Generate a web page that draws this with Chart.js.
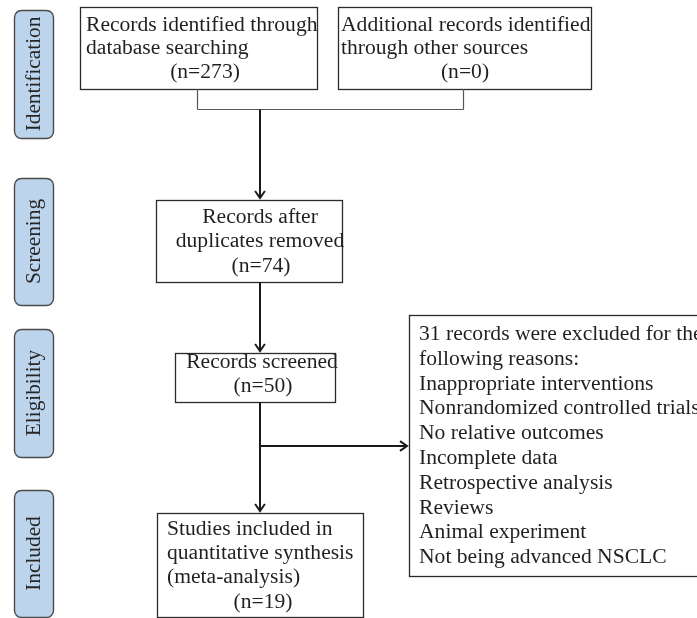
<!DOCTYPE html>
<html>
<head>
<meta charset="utf-8">
<script src="https://cdn.jsdelivr.net/npm/chart.js@4.4.1/dist/chart.umd.min.js"></script>
<style>
  html, body { margin: 0; padding: 0; background: #ffffff; }
  #flow { display: block; }
</style>
</head>
<body>
<canvas id="flow" width="697" height="618"></canvas>
<script>
// Flow data
const stages = ['Identification', 'Screening', 'Eligibility', 'Included'];
const nodeTexts = [
  ['Records identified through', 'database searching'],
  ['Additional records identified', 'through other sources'],
  ['Records after', 'duplicates removed'],
  ['Records screened'],
  ['Studies included in', 'quantitative synthesis', '(meta-analysis)'],
];
const nodeCounts = [273, 0, 74, 50, 19];
const excludedCount = 31;
const exclusionReasons = [
  'Inappropriate interventions',
  'Nonrandomized controlled trials',
  'No relative outcomes',
  'Incomplete data',
  'Retrospective analysis',
  'Reviews',
  'Animal experiment',
  'Not being advanced NSCLC',
];

// Layout (in axis units, 1 unit = 1 px)
const stageBoxes = [
  { x0: 14, x1: 53, y0: 10, y1: 138 },
  { x0: 14, x1: 53, y0: 178, y1: 305 },
  { x0: 14, x1: 53, y0: 329, y1: 457 },
  { x0: 14, x1: 53, y0: 490, y1: 617 },
];
const nodeBoxes = [
  { x0: 80, x1: 317, y0: 7, y1: 89, align: 'left', tx: 86, cx: 205, base: [31, 54], nBase: 78 },
  { x0: 338, x1: 591, y0: 7, y1: 89, align: 'left', tx: 341, cx: 465, base: [31, 54], nBase: 78 },
  { x0: 156, x1: 342, y0: 200, y1: 282, align: 'center', tx: 260, cx: 261, base: [223, 247], nBase: 272 },
  { x0: 175, x1: 335, y0: 353, y1: 402, align: 'center', tx: 262, cx: 263, base: [368], nBase: 392 },
  { x0: 157, x1: 363, y0: 513, y1: 617, align: 'left', tx: 167, cx: 263, base: [535, 559, 583], nBase: 608 },
];
const excludeBox = { x0: 409, x1: 712, y0: 315, y1: 576, tx: 419, firstBase: 340, step: 24.8 };

const textColor = '#231f20';
const lineColor = '#2b2b2b';
const stageFill = '#bdd5ec';
const font = '21.6px "Liberation Serif", "Times New Roman", serif';

const flowPlugin = {
  id: 'flow',
  afterDraw(chart) {
    const ctx = chart.ctx;
    const sx = chart.scales.x, sy = chart.scales.y;
    const px = v => sx.getPixelForValue(v);
    const py = v => sy.getPixelForValue(v);
    ctx.save();

    // stage labels
    stages.forEach((name, i) => {
      const b = stageBoxes[i];
      const x = px(b.x0), y = py(b.y0), w = px(b.x1) - x, h = py(b.y1) - y;
      ctx.beginPath();
      ctx.roundRect(x + 0.5, y + 0.5, w, h, 7);
      ctx.fillStyle = stageFill;
      ctx.fill();
      ctx.lineWidth = 1.4;
      ctx.strokeStyle = '#4a4a4a';
      ctx.stroke();
      ctx.save();
      ctx.translate(x + w / 2, y + h / 2);
      ctx.rotate(-Math.PI / 2);
      ctx.font = '21.3px "Liberation Serif", serif';
      ctx.fillStyle = '#262626';
      ctx.textAlign = 'center';
      ctx.textBaseline = 'middle';
      ctx.fillText(name, 0, 1);
      ctx.restore();
    });

    // boxes
    const rect = b => {
      ctx.lineWidth = 1.3;
      ctx.strokeStyle = lineColor;
      ctx.strokeRect(Math.round(px(b.x0)) + 0.5, Math.round(py(b.y0)) + 0.5,
        px(b.x1) - px(b.x0), py(b.y1) - py(b.y0));
    };
    ctx.font = font;
    ctx.fillStyle = textColor;
    ctx.textBaseline = 'alphabetic';
    nodeTexts.forEach((lines, i) => {
      const b = nodeBoxes[i];
      rect(b);
      ctx.textAlign = b.align;
      lines.forEach((t, j) => ctx.fillText(t, px(b.tx), py(b.base[j])));
      ctx.textAlign = 'center';
      ctx.fillText('(n=' + nodeCounts[i] + ')', px(b.cx), py(b.nBase));
    });

    rect(excludeBox);
    ctx.textAlign = 'left';
    const exLines = [excludedCount + ' records were excluded for the', 'following reasons:'].concat(exclusionReasons);
    exLines.forEach((t, j) => ctx.fillText(t, px(excludeBox.tx), py(excludeBox.firstBase + j * excludeBox.step)));

    // connectors
    const seg = (x0, y0, x1, y1, w, c) => {
      ctx.beginPath();
      ctx.moveTo(px(x0), py(y0));
      ctx.lineTo(px(x1), py(y1));
      ctx.lineWidth = w;
      ctx.strokeStyle = c;
      ctx.stroke();
    };
    const head = (x, y, dir) => {
      const s = 7;
      ctx.beginPath();
      if (dir === 'down') {
        ctx.moveTo(px(x) - s * 0.7, py(y) - s);
        ctx.lineTo(px(x), py(y));
        ctx.lineTo(px(x) + s * 0.7, py(y) - s);
      } else {
        ctx.moveTo(px(x) - s, py(y) - s * 0.7);
        ctx.lineTo(px(x), py(y));
        ctx.lineTo(px(x) - s, py(y) + s * 0.7);
      }
      ctx.lineWidth = 2;
      ctx.strokeStyle = '#1a1a1a';
      ctx.stroke();
    };
    const thin = '#555555';
    seg(197.5, 89, 197.5, 109.5, 1.2, thin);
    seg(463.5, 89, 463.5, 109.5, 1.2, thin);
    seg(197.5, 109.5, 463.5, 109.5, 1.2, thin);
    seg(260, 109.5, 260, 198, 2, '#1a1a1a');
    head(260, 198, 'down');
    seg(260, 282, 260, 351, 2, '#1a1a1a');
    head(260, 351, 'down');
    seg(260, 402, 260, 511, 2, '#1a1a1a');
    head(260, 511, 'down');
    seg(260, 446, 407, 446, 2, '#1a1a1a');
    head(407, 446, 'right');

    ctx.restore();
  },
};

new Chart(document.getElementById('flow'), {
  type: 'scatter',
  data: { datasets: [{ data: [], pointRadius: 0 }] },
  options: {
    responsive: false,
    animation: false,
    devicePixelRatio: 1,
    layout: { padding: 0 },
    plugins: { legend: { display: false }, tooltip: { enabled: false } },
    scales: {
      x: { type: 'linear', min: 0, max: 697, display: false },
      y: { type: 'linear', min: 0, max: 618, reverse: true, display: false },
    },
  },
  plugins: [flowPlugin],
});
</script>
</body>
</html>
